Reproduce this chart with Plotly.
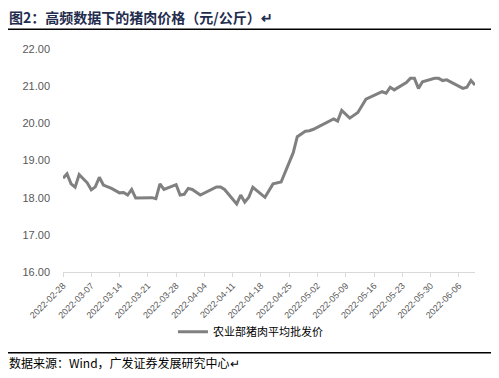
import plotly.graph_objects as go

dates = ["2022-02-28", "2022-03-01", "2022-03-02", "2022-03-03", "2022-03-04",
         "2022-03-06", "2022-03-07", "2022-03-08", "2022-03-09", "2022-03-10",
         "2022-03-12", "2022-03-14", "2022-03-15", "2022-03-16", "2022-03-17",
         "2022-03-18", "2022-03-22", "2022-03-23", "2022-03-24", "2022-03-25",
         "2022-03-28", "2022-03-29", "2022-03-30", "2022-03-31", "2022-04-01",
         "2022-04-03", "2022-04-07", "2022-04-08", "2022-04-09", "2022-04-12",
         "2022-04-13", "2022-04-14", "2022-04-15", "2022-04-16", "2022-04-19",
         "2022-04-21", "2022-04-23", "2022-04-25", "2022-04-26", "2022-04-27",
         "2022-04-29", "2022-04-30", "2022-05-01", "2022-05-06", "2022-05-07",
         "2022-05-08", "2022-05-10", "2022-05-12", "2022-05-14", "2022-05-18",
         "2022-05-19", "2022-05-20", "2022-05-21", "2022-05-24", "2022-05-25",
         "2022-05-26", "2022-05-27", "2022-05-28", "2022-05-31", "2022-06-01",
         "2022-06-02", "2022-06-03", "2022-06-07", "2022-06-08", "2022-06-09",
         "2022-06-10"]
prices = [18.52, 18.64, 18.37, 18.28, 18.62,
          18.40, 18.21, 18.29, 18.55, 18.34,
          18.25, 18.13, 18.14, 18.07, 18.22,
          17.99, 18.00, 17.97, 18.37, 18.22,
          18.35, 18.07, 18.09, 18.25, 18.22,
          18.07, 18.29, 18.29, 18.22, 17.83,
          18.07, 17.88, 18.01, 18.28, 18.01,
          18.37, 18.42, 18.97, 19.21, 19.64,
          19.79, 19.80, 19.84, 20.12, 20.06,
          20.35, 20.14, 20.29, 20.65, 20.85,
          20.81, 20.97, 20.90, 21.10, 21.21,
          21.21, 20.94, 21.12, 21.21, 21.21,
          21.15, 21.17, 20.94, 20.97, 21.15,
          21.03]
tick_dates = ["2022-02-28", "2022-03-07", "2022-03-14", "2022-03-21", "2022-03-28",
              "2022-04-04", "2022-04-11", "2022-04-18", "2022-04-25", "2022-05-02",
              "2022-05-09", "2022-05-16", "2022-05-23", "2022-05-30", "2022-06-06"]
y_ticks = [16, 17, 18, 19, 20, 21, 22]

series_name = "农业部猪肉平均批发价"
title_text = "图2：高频数据下的猪肉价格（元/公斤）↵"
source_text = "数据来源：Wind，广发证券发展研究中心↵"

CJK = "Noto Sans CJK SC"

fig = go.Figure()
fig.add_trace(go.Scatter(
    x=dates, y=prices, mode="lines", name=series_name,
    line=dict(color="#808080", width=3),
))

fig.update_layout(
    width=491, height=370,
    margin=dict(l=55, r=24, t=41, b=106, autoexpand=False),
    paper_bgcolor="white", plot_bgcolor="white",
    showlegend=True,
    legend=dict(orientation="h", x=0.455, xanchor="center", y=-0.268, yanchor="middle",
                font=dict(family=CJK, size=11, color="#000000"),
                itemwidth=30, bgcolor="rgba(0,0,0,0)"),
    xaxis=dict(
        type="date", range=["2022-02-28", "2022-06-10"], automargin=False,
        tickvals=tick_dates, ticktext=tick_dates, tickangle=-45,
        tickfont=dict(family="Arial, Liberation Sans", size=9, color="#595959"),
        showgrid=False, showline=True, linecolor="#d9d9d9", linewidth=1,
        ticks="outside", ticklen=4, tickcolor="#d9d9d9", zeroline=False,
    ),
    yaxis=dict(
        range=[16, 22], tickvals=y_ticks, tickformat=".2f", automargin=False,
        tickfont=dict(family="Arial, Liberation Sans", size=11, color="#595959"),
        showgrid=False, showline=False, zeroline=False, ticks="", ticklabelstandoff=12,
    ),
    annotations=[
        dict(text="<b>" + title_text + "</b>", xref="paper", yref="paper",
             x=-0.135, y=1.1435, xanchor="left", yanchor="middle", showarrow=False,
             font=dict(family=CJK, size=14, color="#1f2d4e")),
        dict(text=source_text, xref="paper", yref="paper",
             x=-0.135, y=-0.408, xanchor="left", yanchor="middle", showarrow=False,
             font=dict(family=CJK, size=12, color="#000000")),
        dict(text="+", xref="paper", yref="paper",
             x=1.045, y=-0.315, xanchor="center", yanchor="middle", showarrow=False,
             font=dict(family="Arial", size=8, color="#999999")),
    ],
    shapes=[
        dict(type="line", xref="paper", yref="paper", x0=-0.136, x1=1.056,
             y0=1.0883, y1=1.0883, line=dict(color="black", width=1.5)),
        dict(type="line", xref="paper", yref="paper", x0=-0.136, x1=1.056,
             y0=-0.3619, y1=-0.3619, line=dict(color="black", width=1.5)),
    ],
)

fig.write_html("out.html")
